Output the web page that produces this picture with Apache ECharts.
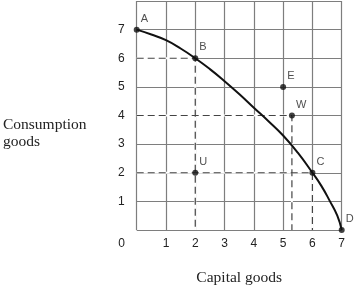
<!DOCTYPE html>
<html><head><meta charset="utf-8">
<script src="https://cdn.jsdelivr.net/npm/echarts@6/dist/echarts.min.js"></script>
<style>html,body{margin:0;padding:0;background:#fff}#c{width:355px;height:286px}</style>
</head><body><div id="c"></div>
<script>
// PPF curve
const curveX = [0, 0.5, 1, 1.5, 2, 2.5, 3, 3.5, 4, 4.5, 5, 5.5, 6, 6.3, 6.6, 6.85, 7];
const curveY = [7, 6.83, 6.63, 6.34, 6, 5.62, 5.2, 4.75, 4.27, 3.8, 3.3, 2.7, 2, 1.55, 1, 0.5, 0];
// Labelled points
const pointNames = ['A', 'B', 'C', 'D', 'E', 'W', 'U'];
const pointX = [0, 2, 6, 7, 5, 5.3, 2];
const pointY = [7, 6, 2, 0, 5, 4, 2];
// Dashed guide lines (corner points)
const guideX = [2, 5.3, 6];
const guideY = [6, 4, 2];
// Axis ticks
const xTicks = [0, 1, 2, 3, 4, 5, 6, 7];
const yTicks = [1, 2, 3, 4, 5, 6, 7];

const chart = echarts.init(document.getElementById('c'), null, {renderer: 'canvas'});
const curveData = curveX.map((x, i) => [x, curveY[i]]);
const pointData = pointNames.map((n, i) => ({name: n, value: [pointX[i], pointY[i]]}));
const guideSeries = [];
guideX.forEach((gx, i) => {
  const d = [[0, guideY[i]], [gx, guideY[i]], [gx, 0]];
  guideSeries.push({type: 'line', data: d, showSymbol: false, silent: true, z: 3,
    lineStyle: {color: '#fff', width: 2, type: 'solid'}});
  guideSeries.push({type: 'line', data: d, showSymbol: false, silent: true, z: 4,
    lineStyle: {color: '#444', width: 1.2, type: [7, 4]}});
});

chart.setOption({
  animation: false,
  grid: {left: 136.7, right: 13.3, top: 1, bottom: 56, containLabel: false, outerBoundsMode: 'none'},
  xAxis: {
    type: 'value', min: 0, max: 7, interval: 1,
    axisLine: {show: false}, axisTick: {show: false},
    splitLine: {show: true, lineStyle: {color: '#7e7e7e', width: 1.2}},
    axisLabel: {
      margin: 8, fontFamily: 'Liberation Sans', fontSize: 12, color: '#222',
      formatter: v => xTicks.indexOf(v) === 0 ? '{z|' + v + '}' : String(v),
      rich: {z: {fontFamily: 'Liberation Sans', fontSize: 12, color: '#222', padding: [0, 30, 0, 0]}}
    },
    name: 'Capital goods', nameLocation: 'middle', nameGap: 40,
    nameTextStyle: {fontFamily: 'Liberation Serif', fontSize: 15.5, color: '#222'}
  },
  yAxis: {
    type: 'value', min: 0, max: 8, interval: 1,
    axisLine: {show: false}, axisTick: {show: false},
    splitLine: {show: true, lineStyle: {color: '#7e7e7e', width: 1.2}},
    axisLabel: {
      margin: 12, fontFamily: 'Liberation Sans', fontSize: 12, color: '#222',
      formatter: v => yTicks.indexOf(v) >= 0 ? String(v) : ''
    }
  },
  graphic: [{
    type: 'text', left: 3, top: 116,
    style: {text: 'Consumption\ngoods', font: '15.5px "Liberation Serif"', fill: '#222', lineHeight: 17}
  }],
  series: guideSeries.concat([
    {type: 'line', data: curveData, smooth: 0.5, showSymbol: false, z: 5,
      lineStyle: {color: '#111', width: 2}},
    {type: 'scatter', data: pointData, symbolSize: 6, z: 6,
      itemStyle: {color: '#111'},
      label: {show: true, formatter: '{b}', position: 'right', distance: 1, offset: [0, -11],
        fontFamily: 'Liberation Sans', fontSize: 11, color: '#222'}}
  ])
});
</script></body></html>
